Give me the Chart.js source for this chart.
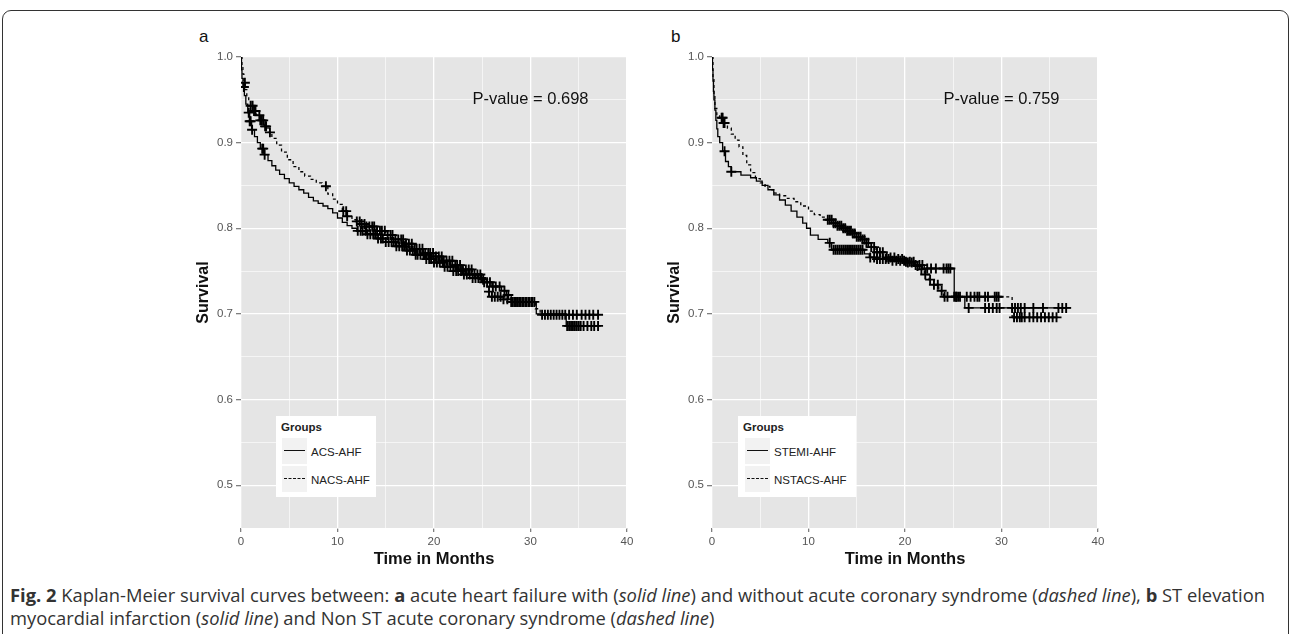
<!DOCTYPE html>
<html>
<head>
<meta charset="utf-8">
<script src="https://cdn.jsdelivr.net/npm/chart.js@4.4.0/dist/chart.umd.min.js"></script>
<style>
  html, body { margin: 0; padding: 0; background: #fff; }
  body { width: 1292px; height: 634px; position: relative; overflow: hidden; font-family: "Liberation Sans", Arial, sans-serif; }
  .frame { position: absolute; left: 2px; top: 10px; width: 1285px; height: 660px; border: 1.5px solid #333; border-radius: 9px; }
  .panel { position: absolute; top: 20px; }
  .tag { position: absolute; top: 27px; font-size: 17px; color: #111; }
  .legend { position: absolute; top: 416px; height: 81px; background: #fff; color: #222; font-size: 11.5px; }
  .legend .title { position: absolute; left: 5px; top: 5px; font-weight: bold; }
  .key { position: absolute; width: 25px; height: 26px; background: #f2f2f2; }
  .key i { position: absolute; left: 2px; right: 2px; top: 12px; border-top: 1.3px solid #111; }
  .key i.dash { border-top-style: dashed; }
  .item { position: absolute; line-height: 14px; }
  .caption { position: absolute; left: 10px; top: 583px; font-family: "Open Sans", sans-serif; font-size: 18.35px; line-height: 23px; color: #333; white-space: nowrap; }
</style>
</head>
<body>
<div class="frame"></div>
<div class="tag" style="left:199px">a</div>
<div class="tag" style="left:671px">b</div>
<canvas id="chartA" class="panel" style="left:150px" width="490" height="560"></canvas>
<canvas id="chartB" class="panel" style="left:621px" width="490" height="560"></canvas>
<div id="legendA" class="legend" style="left:276px; width:100px"></div>
<div id="legendB" class="legend" style="left:738px; width:118px"></div>
<div class="caption"><b>Fig. 2</b> Kaplan-Meier survival curves between: <b>a</b> acute heart failure with (<i>solid line</i>) and without acute coronary syndrome (<i>dashed line</i>), <b>b</b> ST elevation<br>myocardial infarction (<i>solid line</i>) and Non ST acute coronary syndrome (<i>dashed line</i>)</div>
<script>
// panel a: ACS-AHF (solid) vs NACS-AHF (dashed)
const aGroups = ['ACS-AHF', 'NACS-AHF'];
const aPValue = 'P-value = 0.698';
const acsMonths = [0, 0.05, 0.1, 0.2, 0.35, 0.5, 0.7, 0.9, 1.1, 1.4, 1.7, 2.0, 2.4, 2.8, 3.2, 3.6, 4.0, 4.5, 5.0, 5.5,
  6.0, 6.5, 7.0, 7.5, 8.0, 8.5, 9.0, 9.5, 10.0, 10.5, 11.0, 11.5, 12.0, 13, 14, 15, 16, 17, 18, 19,
  20, 21, 22, 23, 24, 25, 26, 27, 27.5, 28, 30.6, 33.7, 37.3];
const acsSurv = [1.0, 0.985, 0.975, 0.965, 0.955, 0.945, 0.935, 0.925, 0.915, 0.907, 0.9, 0.893, 0.886, 0.879, 0.873, 0.868, 0.863, 0.858, 0.853, 0.849,
  0.845, 0.841, 0.836, 0.832, 0.829, 0.826, 0.823, 0.818, 0.812, 0.807, 0.803, 0.8, 0.797, 0.793, 0.788, 0.784, 0.779, 0.774, 0.769, 0.764,
  0.76, 0.755, 0.75, 0.746, 0.742, 0.737, 0.732, 0.727, 0.722, 0.714, 0.700, 0.686, 0.686];
const acsCensor = [0.3, 0.8, 0.9, 1.0, 1.15, 2.2, 2.3, 2.45, 12.1, 12.4, 12.6, 12.9, 13.1, 13.4, 13.7, 13.9, 14.2, 14.5, 14.7, 15.0,
  15.3, 15.6, 15.8, 16.1, 16.4, 16.7, 16.9, 17.2, 17.5, 17.8, 18.1, 18.3, 18.6, 18.9, 19.2, 19.5, 19.7, 20.0, 20.3, 20.6,
  20.9, 21.1, 21.4, 21.7, 22.0, 22.3, 22.5, 22.8, 23.1, 23.4, 23.7, 24.0, 24.3, 24.6, 24.9, 25.2, 25.5, 25.8, 26.1, 26.4,
  26.8, 27.3, 27.7, 28.0, 28.3, 28.6, 28.9, 29.2, 29.5, 29.8, 30.1, 30.4, 33.8, 34.0, 34.2, 34.4, 34.6, 34.8, 35.0, 35.2,
  35.5, 35.9, 36.3, 36.6, 37.0];
const nacsMonths = [0, 0.1, 0.2, 0.3, 0.45, 0.6, 0.8, 1.0, 1.3, 1.6, 2.0, 2.4, 2.8, 3.2, 3.7, 4.2, 4.8, 5.4, 6.0, 6.6,
  7.2, 7.8, 8.4, 9.0, 9.5, 10.0, 10.5, 11.0, 11.5, 12.0, 12.5, 13, 14, 15, 16, 17, 18, 19, 20, 21,
  22, 23, 24, 25, 25.5, 26, 27, 28, 30.5, 31, 37.3];
const nacsSurv = [1.0, 0.99, 0.98, 0.97, 0.962, 0.955, 0.948, 0.943, 0.937, 0.932, 0.926, 0.919, 0.912, 0.905, 0.897, 0.889, 0.88, 0.872, 0.866, 0.861,
  0.857, 0.853, 0.849, 0.84, 0.834, 0.828, 0.82, 0.814, 0.81, 0.808, 0.805, 0.802, 0.797, 0.792, 0.787, 0.782, 0.776, 0.771, 0.767, 0.762,
  0.757, 0.752, 0.746, 0.74, 0.726, 0.72, 0.717, 0.714, 0.706, 0.699, 0.699];
const nacsCensor = [0.4, 1.0, 1.2, 1.35, 1.5, 1.9, 2.0, 2.15, 2.3, 2.5, 2.6, 3.0, 8.8, 10.6, 10.9, 11.0, 12.0, 12.3, 12.5, 12.8,
  13.0, 13.3, 13.6, 13.8, 14.1, 14.4, 14.6, 14.9, 15.2, 15.5, 15.7, 16.0, 16.3, 16.6, 16.8, 17.1, 17.4, 17.7, 18.0, 18.2,
  18.5, 18.8, 19.1, 19.4, 19.6, 19.9, 20.2, 20.5, 20.8, 21.0, 21.3, 21.6, 21.9, 22.2, 22.4, 22.7, 23.0, 23.3, 23.6, 23.9,
  24.2, 24.5, 24.8, 25.1, 25.7, 26.0, 26.3, 26.6, 26.9, 27.2, 27.6, 28.1, 28.4, 28.7, 29.0, 29.3, 29.6, 29.9, 30.2, 31.2,
  31.5, 31.8, 32.1, 32.4, 32.7, 33.0, 33.3, 33.6, 34.0, 34.4, 34.8, 35.3, 35.7, 36.1, 36.5, 37.0];

// panel b: STEMI-AHF (solid) vs NSTACS-AHF (dashed)
const bGroups = ['STEMI-AHF', 'NSTACS-AHF'];
const bPValue = 'P-value = 0.759';
const stemiMonths = [0, 0.05, 0.1, 0.15, 0.2, 0.3, 0.4, 0.5, 0.6, 0.8, 1.1, 1.4, 1.7, 2.0, 3.0, 4.0, 4.6, 5.2, 5.8, 6.4,
  7.0, 7.6, 8.2, 8.8, 9.4, 9.8, 10.2, 11.0, 12.0, 12.4, 15.8, 16.3, 17.0, 18.5, 20.0, 21.0, 22.0, 25.1, 26.2, 37.2];
const stemiSurv = [1.0, 0.985, 0.972, 0.96, 0.95, 0.938, 0.926, 0.916, 0.907, 0.9, 0.89, 0.878, 0.872, 0.866, 0.862, 0.859, 0.855, 0.85, 0.845, 0.839,
  0.833, 0.827, 0.82, 0.813, 0.806, 0.8, 0.792, 0.787, 0.783, 0.775, 0.77, 0.766, 0.764, 0.762, 0.76, 0.757, 0.753, 0.72, 0.707, 0.707];
const stemiCensor = [1.3, 2.0, 12.2, 12.6, 12.8, 13.0, 13.2, 13.4, 13.6, 13.8, 14.0, 14.2, 14.4, 14.6, 14.8, 15.0, 15.2, 15.4, 15.6, 16.4,
  16.8, 17.1, 17.4, 17.7, 18.0, 18.3, 18.7, 19.1, 19.5, 19.9, 20.3, 20.7, 21.1, 21.5, 21.8, 22.3, 22.7, 23.2, 24.0, 24.3,
  24.5, 24.7, 25.3, 26.6, 28.3, 28.7, 29.1, 29.5, 29.8, 31.1, 31.4, 31.7, 32.0, 32.4, 33.3, 34.3, 35.9, 36.3, 36.7];
const nstacsMonths = [0, 0.1, 0.2, 0.3, 0.5, 0.8, 1.2, 1.6, 2.0, 2.4, 2.8, 3.2, 3.6, 4.0, 4.5, 5.0, 5.5, 6.0, 6.5, 7.0,
  7.7, 8.5, 9.2, 10.0, 10.6, 11.2, 11.8, 12.5, 13.0, 13.5, 14.0, 14.5, 15.0, 15.5, 16.0, 16.5, 17.0, 18.0, 19.0, 20.0,
  21.0, 21.5, 22.0, 22.5, 23.0, 23.5, 24.0, 31.1, 35.9];
const nstacsSurv = [1.0, 0.975, 0.955, 0.94, 0.932, 0.929, 0.923, 0.917, 0.91, 0.903, 0.895, 0.885, 0.874, 0.865, 0.858, 0.853, 0.849, 0.845, 0.841, 0.838,
  0.835, 0.831, 0.826, 0.82, 0.816, 0.813, 0.81, 0.806, 0.803, 0.8, 0.797, 0.794, 0.79, 0.787, 0.783, 0.778, 0.772, 0.766, 0.764, 0.761,
  0.756, 0.752, 0.746, 0.74, 0.734, 0.727, 0.72, 0.696, 0.696];
const nstacsCensor = [1.0, 1.1, 1.2, 1.3, 12.0, 12.2, 12.4, 12.6, 12.8, 13.0, 13.2, 13.4, 13.6, 13.8, 14.0, 14.2, 14.4, 14.6, 14.8, 15.0,
  15.2, 15.4, 15.6, 15.8, 16.0, 16.2, 16.5, 16.8, 17.1, 17.4, 17.7, 18.1, 18.5, 18.9, 19.3, 19.7, 20.1, 20.5, 20.9, 21.3,
  21.7, 22.1, 22.6, 23.0, 23.4, 23.8, 24.1, 24.4, 25.1, 25.3, 25.5, 25.7, 26.4, 26.8, 27.2, 27.5, 27.7, 28.3, 28.6, 29.3,
  29.5, 29.7, 31.3, 31.6, 31.9, 32.1, 32.4, 32.9, 33.3, 33.7, 34.1, 34.5, 34.9, 35.3, 35.7];

const xTicks = [0, 10, 20, 30, 40];
const yTicks = ['0.5', '0.6', '0.7', '0.8', '0.9', '1.0'];

function zip(xs, ys) {
    return xs.map((x, i) => ({x: x, y: ys[i]}));
}

// survival value of the step curve at a censoring time
function stepValue(xs, ys, t) {
    let v = ys[0];
    for (let i = 0; i < xs.length; i++) {
        if (xs[i] <= t) v = ys[i];
    }
    return v;
}

function censorPoints(xs, ys, times) {
    return times.map(t => ({x: t, y: stepValue(xs, ys, t)}));
}

function isMajorY(v) {
    return Math.round(v * 100) % 10 === 0;
}

const panelBg = {
    id: 'panelBg',
    beforeDraw(chart) {
        const {ctx, chartArea: a} = chart;
        ctx.save();
        ctx.fillStyle = '#e5e5e5';
        ctx.fillRect(a.left, a.top, a.right - a.left, a.bottom - a.top);
        ctx.restore();
    }
};

const pLabel = {
    id: 'pLabel',
    afterDatasetsDraw(chart, args, opts) {
        const {ctx, scales} = chart;
        ctx.save();
        ctx.fillStyle = '#111';
        ctx.font = '16.5px "Liberation Sans", Arial, sans-serif';
        ctx.textAlign = 'center';
        ctx.textBaseline = 'middle';
        ctx.fillText(opts.text, scales.x.getPixelForValue(opts.x), scales.y.getPixelForValue(opts.y));
        ctx.restore();
    }
};

function curve(label, xs, ys, dashed) {
    return {
        label: label,
        data: zip(xs, ys),
        showLine: true,
        stepped: true,
        borderColor: '#000',
        borderWidth: 1.3,
        borderDash: dashed ? [3, 3] : [],
        pointRadius: 0,
        fill: false
    };
}

function censor(xs, ys, times) {
    return {
        label: 'censored',
        data: censorPoints(xs, ys, times),
        showLine: false,
        pointStyle: 'cross',
        pointRadius: 5,
        borderColor: '#000',
        borderWidth: 1.9
    };
}

function makeChart(id, datasets, pText) {
    const ctx = document.getElementById(id).getContext('2d');
    return new Chart(ctx, {
        type: 'scatter',
        data: {datasets: datasets},
        plugins: [panelBg, pLabel],
        options: {
            responsive: false,
            animation: false,
            layout: {padding: {top: 37, right: 13, bottom: 0, left: 0}},
            plugins: {
                legend: {display: false},
                tooltip: {enabled: false},
                pLabel: {text: pText, x: 30, y: 0.95}
            },
            scales: {
                x: {
                    type: 'linear',
                    min: 0,
                    max: 40,
                    afterFit: s => { s.height = 52; },
                    border: {display: false},
                    grid: {
                        color: '#fff',
                        lineWidth: c => (xTicks.includes(c.tick.value) ? 1.3 : 0.6),
                        tickColor: c => (xTicks.includes(c.tick.value) ? '#7f7f7f' : 'rgba(0,0,0,0)'),
                        tickLength: 4
                    },
                    ticks: {
                        stepSize: 5,
                        autoSkip: false,
                        maxRotation: 0,
                        padding: 3,
                        color: '#555',
                        font: {family: 'Liberation Sans', size: 11.5},
                        callback: v => (xTicks.includes(v) ? String(v) : '')
                    },
                    title: {
                        display: true,
                        text: 'Time in Months',
                        color: '#111',
                        font: {family: 'Liberation Sans', size: 16.5, weight: 'bold'},
                        padding: {top: 0, bottom: 11}
                    }
                },
                y: {
                    type: 'linear',
                    min: 0.45,
                    max: 1.0,
                    afterFit: s => { s.width = 91; },
                    border: {display: false},
                    grid: {
                        color: '#fff',
                        lineWidth: c => (isMajorY(c.tick.value) ? 1.3 : 0.6),
                        tickColor: c => (isMajorY(c.tick.value) ? '#7f7f7f' : 'rgba(0,0,0,0)'),
                        tickLength: 5
                    },
                    ticks: {
                        stepSize: 0.05,
                        autoSkip: false,
                        padding: 3,
                        color: '#555',
                        font: {family: 'Liberation Sans', size: 11.5},
                        callback: v => {
                            const s = v.toFixed(1);
                            return isMajorY(v) && yTicks.includes(s) ? s : '';
                        }
                    },
                    title: {
                        display: true,
                        text: 'Survival',
                        color: '#111',
                        font: {family: 'Liberation Sans', size: 16, weight: 'bold'},
                        padding: {top: 44, bottom: 0}
                    }
                }
            }
        }
    });
}

function buildLegend(id, groups, keyLeft, textLeft) {
    const box = document.getElementById(id);
    box.innerHTML = '<div class="title">Groups</div>';
    groups.forEach((g, i) => {
        const top = 22 + i * 28;
        box.innerHTML += `<div class="key" style="left:${keyLeft}px; top:${top}px"><i class="${i === 1 ? 'dash' : ''}"></i></div>` +
            `<div class="item" style="left:${textLeft}px; top:${top + 7}px">${g}</div>`;
    });
}

makeChart('chartA', [
    curve(aGroups[0], acsMonths, acsSurv, false),
    curve(aGroups[1], nacsMonths, nacsSurv, true),
    censor(acsMonths, acsSurv, acsCensor),
    censor(nacsMonths, nacsSurv, nacsCensor)
], aPValue);

makeChart('chartB', [
    curve(bGroups[0], stemiMonths, stemiSurv, false),
    curve(bGroups[1], nstacsMonths, nstacsSurv, true),
    censor(stemiMonths, stemiSurv, stemiCensor),
    censor(nstacsMonths, nstacsSurv, nstacsCensor)
], bPValue);

buildLegend('legendA', aGroups, 6, 35);
buildLegend('legendB', bGroups, 7, 36);
</script>
</body>
</html>
